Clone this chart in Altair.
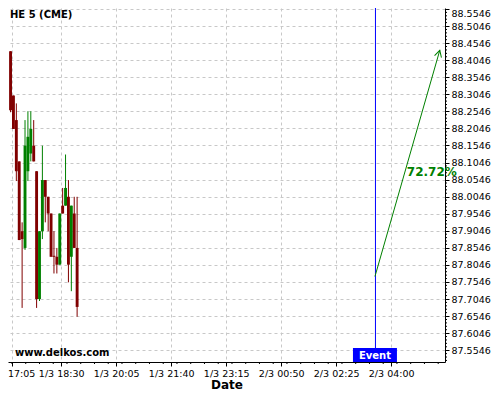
import altair as alt
import pandas as pd
import numpy as np

# ---- data ----
times = ["2024-03-01T17:00", "2024-03-01T17:05", "2024-03-01T17:10", "2024-03-01T17:15",
         "2024-03-01T17:20", "2024-03-01T17:25", "2024-03-01T17:30", "2024-03-01T17:35",
         "2024-03-01T17:40", "2024-03-01T17:45", "2024-03-01T17:50", "2024-03-01T17:55",
         "2024-03-01T18:00", "2024-03-01T18:05", "2024-03-01T18:10", "2024-03-01T18:15",
         "2024-03-01T18:20", "2024-03-01T18:25", "2024-03-01T18:30", "2024-03-01T18:35",
         "2024-03-01T18:40", "2024-03-01T18:45", "2024-03-01T18:50", "2024-03-01T18:55"]
opens = [88.4307, 88.3010, 88.2290, 88.1079, 87.9033, 87.8543, 88.0791, 88.1310,
         88.1540, 88.0791, 87.7045, 87.9033, 88.0532, 88.0042, 87.9552, 87.8313,
         87.8284, 87.8053, 87.9782, 87.9782, 88.0042, 87.8284, 87.9552, 87.8543]
closes = [88.2578, 88.2030, 88.0791, 87.8774, 87.8803, 88.1540, 88.1800, 88.2030,
          88.1079, 87.7045, 87.9033, 88.0532, 88.0042, 87.9552, 87.8284, 87.8284,
          87.8053, 87.9552, 87.9552, 88.0301, 87.8053, 87.9782, 87.8543, 87.6814]
highs = [88.4307, 88.3010, 88.2779, 88.1079, 87.9293, 88.2290, 88.2549, 88.2549,
         88.2290, 88.0791, 87.9033, 88.1540, 88.0532, 88.0042, 87.9552, 87.9033,
         87.8543, 87.9552, 88.0301, 88.1281, 88.0532, 87.9782, 88.0042, 88.0042]
lows = [88.2520, 88.2030, 88.0503, 87.8774, 87.6785, 87.8486, 88.0503, 88.1079,
        88.1079, 87.6785, 87.6987, 87.8803, 87.9293, 87.9033, 87.8284, 87.7794,
        87.7794, 87.8053, 87.9552, 87.9782, 87.7535, 87.7275, 87.8543, 87.6526]

event_time = "2024-03-02T03:32"
arrow_times = ["2024-03-02T03:32", "2024-03-02T05:24"]
arrow_values = [87.7707, 88.4336]
pct_label = "72.72%"
pct_time = "2024-03-02T04:27"
pct_value = 88.0762

x_ticks = ["2024-03-01T17:05", "2024-03-01T18:30", "2024-03-01T20:05", "2024-03-01T21:40",
           "2024-03-01T23:15", "2024-03-02T00:50", "2024-03-02T02:25", "2024-03-02T04:00"]
y_ticks = [87.5546, 87.6046, 87.6546, 87.7046, 87.7546, 87.8046, 87.8546, 87.9046,
           87.9546, 88.0046, 88.0546, 88.1046, 88.1546, 88.2046, 88.2546, 88.3046,
           88.3546, 88.4046, 88.4546, 88.5046, 88.5546]

x_domain = ["2024-03-01T16:58:06", "2024-03-02T05:33:00"]
y_domain = [87.52, 88.5575]

W, H = 437, 354
RED, GREEN, BLUE = "#800000", "#008000", "#0000ff"
FONT = "DejaVu Sans"

# ---- tables ----
df = pd.DataFrame({"t": pd.to_datetime(times), "open": opens, "close": closes,
                   "high": highs, "low": lows})
df["t_end"] = df["t"] + pd.Timedelta(minutes=5)
df["t_mid"] = df["t"] + pd.Timedelta(seconds=150)
df["dir"] = np.where(df["close"] >= df["open"], "up", "down")
for c in ["t", "t_end", "t_mid"]:
    df[c] = df[c].dt.strftime("%Y-%m-%dT%H:%M:%S")

xscale = alt.Scale(type="utc", domain=x_domain, nice=False)
yscale = alt.Scale(domain=y_domain, nice=False, zero=False)
color = alt.Color("dir:N", scale=alt.Scale(domain=["up", "down"], range=[GREEN, RED]), legend=None)

x_axis = alt.Axis(values=x_ticks, tickCount=40, labelExpr="utcFormat(datum.value, '%-d/%-m %H:%M')",
                  title="Date",
                  grid=True, gridDash=[3, 3], gridColor="#c8c8c8", domainColor="black",
                  tickColor="black", tickSize=4, labelOverlap=False, labelBound=False,
                  labelFlush=False, labelFont=FONT, labelFontSize=9.5, labelColor="black",
                  titleFont=FONT, titleFontSize=12, titleFontWeight="bold", titleColor="black",
                  titleBaseline="alphabetic", titleY=26, labelPadding=2)
y_axis = alt.Axis(values=y_ticks, tickCount=40, format=".4f", orient="right", title=None,
                  grid=True, gridDash=[3, 3], gridColor="#c8c8c8", domainColor="black",
                  tickColor="black", tickSize=4, labelOverlap=False, labelBound=False,
                  labelFlush=4, labelFont=FONT, labelFontSize=9.5, labelColor="black",
                  labelPadding=2)

base = alt.Chart(df)
wicks = base.mark_rule(strokeWidth=1).encode(
    x=alt.X("t_mid:T", scale=xscale, axis=x_axis),
    y=alt.Y("high:Q", scale=yscale, axis=y_axis),
    y2="low:Q",
    color=color,
)
bodies = base.mark_rect().encode(
    x="t:T", x2="t_end:T", y="open:Q", y2="close:Q", color=color,
)

# minor ticks
minor_y = [v for v in np.round(np.arange(87.5246, 88.5600, 0.01), 4)
           if not any(abs(v - m) < 1e-6 for m in y_ticks)]
minor_y_chart = alt.Chart(pd.DataFrame({"v": minor_y})).mark_rule(color="black", strokeWidth=1).encode(
    y="v:Q", x=alt.value(W), x2=alt.value(W + 2))
t0 = pd.Timestamp(x_ticks[0])
minor_x_times = [t0 + pd.Timedelta(minutes=23.75 * k) for k in range(-1, 32)]
minor_x_times = [t for t in minor_x_times
                 if pd.Timestamp(x_domain[0]) <= t <= pd.Timestamp(x_domain[1])]
minor_x_chart = alt.Chart(pd.DataFrame({"t": [t.strftime("%Y-%m-%dT%H:%M:%S") for t in minor_x_times]})
                          ).mark_rule(color="black", strokeWidth=1).encode(
    x="t:T", y=alt.value(H), y2=alt.value(H + 2))

# event line
ev_df = pd.DataFrame({"t": [event_time]})
ev_t = pd.Timestamp(event_time)
ev_df["t0"] = (ev_t - pd.Timedelta(minutes=38)).strftime("%Y-%m-%dT%H:%M:%S")
ev_df["t1"] = (ev_t + pd.Timedelta(minutes=38)).strftime("%Y-%m-%dT%H:%M:%S")
ev_df["label"] = "Event"
ev_line = alt.Chart(ev_df).mark_rule(color=BLUE, strokeWidth=1, xOffset=0.5).encode(
    x="t:T", y=alt.value(0), y2=alt.value(H))
ev_box = alt.Chart(ev_df).mark_rect(color=BLUE).encode(
    x="t0:T", x2="t1:T", y=alt.value(H - 14), y2=alt.value(H))
ev_text = alt.Chart(ev_df).mark_text(color="white", font=FONT, fontSize=10, fontWeight="bold",
                                     baseline="middle").encode(
    x="t:T", y=alt.value(H - 6.5), text="label:N")

# arrow
arr_df = pd.DataFrame({"t": arrow_times, "v": arrow_values})
arrow = alt.Chart(arr_df).mark_line(color=GREEN, strokeWidth=1).encode(x="t:T", y="v:Q")
head = alt.Chart(arr_df.iloc[[1]]).mark_point(
    shape="M-0.55,1 L0,0 L0.55,1", filled=False, stroke=GREEN, strokeWidth=1,
    size=170, angle=16, opacity=1).encode(x="t:T", y="v:Q")
pct = alt.Chart(pd.DataFrame({"t": [pct_time], "v": [pct_value], "s": [pct_label]})).mark_text(
    color=GREEN, font=FONT, fontSize=12, fontWeight="bold", align="left", baseline="middle"
).encode(x="t:T", y="v:Q", text="s:N")

# captions
cap = pd.DataFrame({"s": ["HE 5 (CME)"]})
title_txt = alt.Chart(cap).mark_text(font=FONT, fontSize=10, fontWeight="bold", color="black",
                                     align="left", baseline="middle").encode(
    x=alt.value(2), y=alt.value(7), text="s:N")
site = pd.DataFrame({"s": ["www.delkos.com"]})
site_txt = alt.Chart(site).mark_text(font=FONT, fontSize=10, fontWeight="bold", color="black",
                                     align="left", baseline="middle").encode(
    x=alt.value(7), y=alt.value(H - 9), text="s:N")

chart = alt.layer(
    wicks, bodies, minor_y_chart, minor_x_chart, ev_line, ev_box, ev_text,
    arrow, head, pct, title_txt, site_txt
).properties(
    width=W, height=H,
    autosize=alt.AutoSizeParams(type="none"),
    padding={"left": 0, "top": 0, "right": 47, "bottom": 30},
    background="white",
).configure_view(stroke=None)

chart.save("out.html", embed_options={"renderer": "svg", "actions": False})
